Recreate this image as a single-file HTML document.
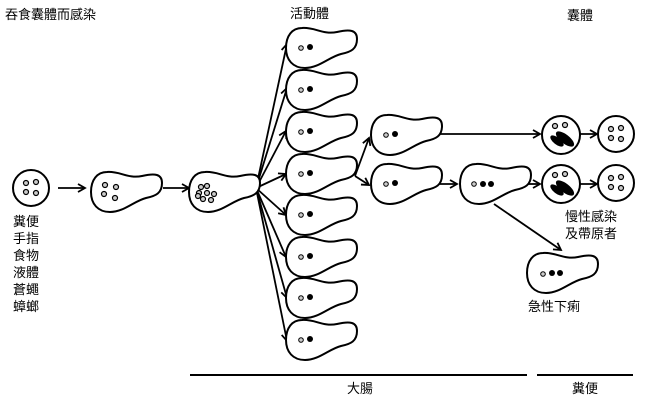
<!DOCTYPE html>
<html><head><meta charset="utf-8"><style>
body{margin:0;background:#fff;width:647px;height:400px;overflow:hidden}
svg{display:block}
text{font-family:"Liberation Sans","Noto Sans CJK TC",sans-serif;font-size:13px;fill:#000}
</style></head><body>
<svg width="647" height="400" viewBox="0 0 647 400" xmlns="http://www.w3.org/2000/svg">
<defs>
<marker id="a" markerWidth="10" markerHeight="10" refX="8" refY="5" orient="auto" markerUnits="userSpaceOnUse">
<path d="M1,1 L8,5 L1,9" fill="none" stroke="#000" stroke-width="1.8"/></marker>
<path id="t" d="M-3,-20 C10,-21 18,-13 32,-16 C45,-19 52,-18 52,-9 C52,1 46,4 36,6 C24,9 14,20 0,20 C-12,20 -19,12 -19,0 C-19,-12 -13,-20 -3,-20 Z" fill="#fff" stroke="#000" stroke-width="2"/>
<g id="tn"><use href="#t"/><circle cx="-4" cy="0" r="2.3" fill="#ccc" stroke="#000" stroke-width="1"/><circle cx="5" cy="-1" r="3" fill="#000"/></g>
<g id="q"><circle r="2.5" fill="#ccc" stroke="#000" stroke-width="1.2"/></g>
<g id="c4"><circle r="18" fill="#fff" stroke="#000" stroke-width="2"/><use href="#q" x="-5" y="-5"/><use href="#q" x="5" y="-6"/><use href="#q" x="-5" y="4"/><use href="#q" x="5" y="5"/></g>
<g id="cb"><circle r="19" fill="#fff" stroke="#000" stroke-width="2"/><use href="#q" x="-6" y="-9"/><use href="#q" x="4" y="-10"/><ellipse cx="-4" cy="6" rx="8" ry="3.5" transform="rotate(38 -4 6)" fill="#000"/><ellipse cx="4" cy="4" rx="11" ry="4.5" transform="rotate(38 4 4)" fill="#000"/></g>
</defs>
<text x="5" y="19">吞食囊體而感染</text>
<text x="290" y="18">活動體</text>
<text x="567" y="20">囊體</text>
<use href="#c4" x="31" y="188"/>
<g font-size="14">
<text x="13" y="226">糞便</text><text x="13" y="243">手指</text><text x="13" y="260">食物</text><text x="13" y="277">液體</text><text x="13" y="294">蒼蠅</text><text x="13" y="311">蟑螂</text></g>
<g stroke="#000" stroke-width="1.8" fill="none" marker-end="url(#a)">
<line x1="58" y1="188" x2="85" y2="188"/>
<line x1="163" y1="188" x2="189" y2="188"/>
<line x1="256" y1="188" x2="287" y2="44"/>
<line x1="256" y1="188" x2="287" y2="88"/>
<line x1="256" y1="188" x2="286" y2="131"/>
<line x1="256" y1="188" x2="286" y2="174"/>
<line x1="256" y1="188" x2="286" y2="215"/>
<line x1="256" y1="188" x2="286" y2="257"/>
<line x1="256" y1="188" x2="287" y2="298"/>
<line x1="256" y1="188" x2="287" y2="341"/>
<line x1="355" y1="176" x2="369" y2="138"/>
<line x1="355" y1="176" x2="369" y2="185"/>
<line x1="438" y1="134" x2="540" y2="134"/>
<line x1="438" y1="184" x2="457" y2="184"/>
<line x1="526" y1="184" x2="540" y2="184"/>
<line x1="579" y1="134" x2="597" y2="134"/>
<line x1="579" y1="184" x2="597" y2="184"/>
<line x1="494" y1="204" x2="561" y2="250"/>
</g>
<use href="#t" x="110" y="192"/>
<use href="#q" x="105" y="185"/><use href="#q" x="116" y="187"/><use href="#q" x="104" y="194"/><use href="#q" x="115" y="198"/>
<use href="#t" x="208" y="192"/>
<use href="#q" x="201" y="187"/><use href="#q" x="207" y="186"/><use href="#q" x="199" y="193"/><use href="#q" x="207" y="193"/><use href="#q" x="214" y="194"/><use href="#q" x="203" y="199"/><use href="#q" x="211" y="200"/><use href="#q" x="198" y="196"/>
<use href="#tn" x="305" y="48"/><use href="#tn" x="305" y="90"/><use href="#tn" x="305" y="132"/><use href="#tn" x="305" y="174"/>
<use href="#tn" x="305" y="215"/><use href="#tn" x="305" y="257"/><use href="#tn" x="305" y="298"/><use href="#tn" x="305" y="340"/>
<use href="#tn" x="390" y="135"/><use href="#tn" x="390" y="184"/>
<use href="#t" x="479" y="184"/><circle cx="474" cy="184" r="2.3" fill="#ccc" stroke="#000"/><circle cx="483" cy="184" r="3"/><circle cx="491" cy="184" r="3"/>
<use href="#t" x="546" y="273"/><circle cx="543" cy="274" r="2.3" fill="#ccc" stroke="#000"/><circle cx="552" cy="273" r="3"/><circle cx="560" cy="273" r="3"/>
<use href="#cb" x="561" y="135"/><use href="#c4" x="616" y="134"/>
<use href="#cb" x="561" y="184"/><use href="#c4" x="616" y="183"/>
<g font-size="14"><text x="565" y="221">慢性感染</text><text x="565" y="238">及帶原者</text><text x="528" y="311">急性下痢</text></g>
<line x1="190" y1="375" x2="527" y2="375" stroke="#000" stroke-width="2"/>
<line x1="537" y1="375" x2="633" y2="375" stroke="#000" stroke-width="2"/>
<text x="347" y="393">大腸</text><text x="572" y="393">糞便</text>
</svg>
</body></html>
